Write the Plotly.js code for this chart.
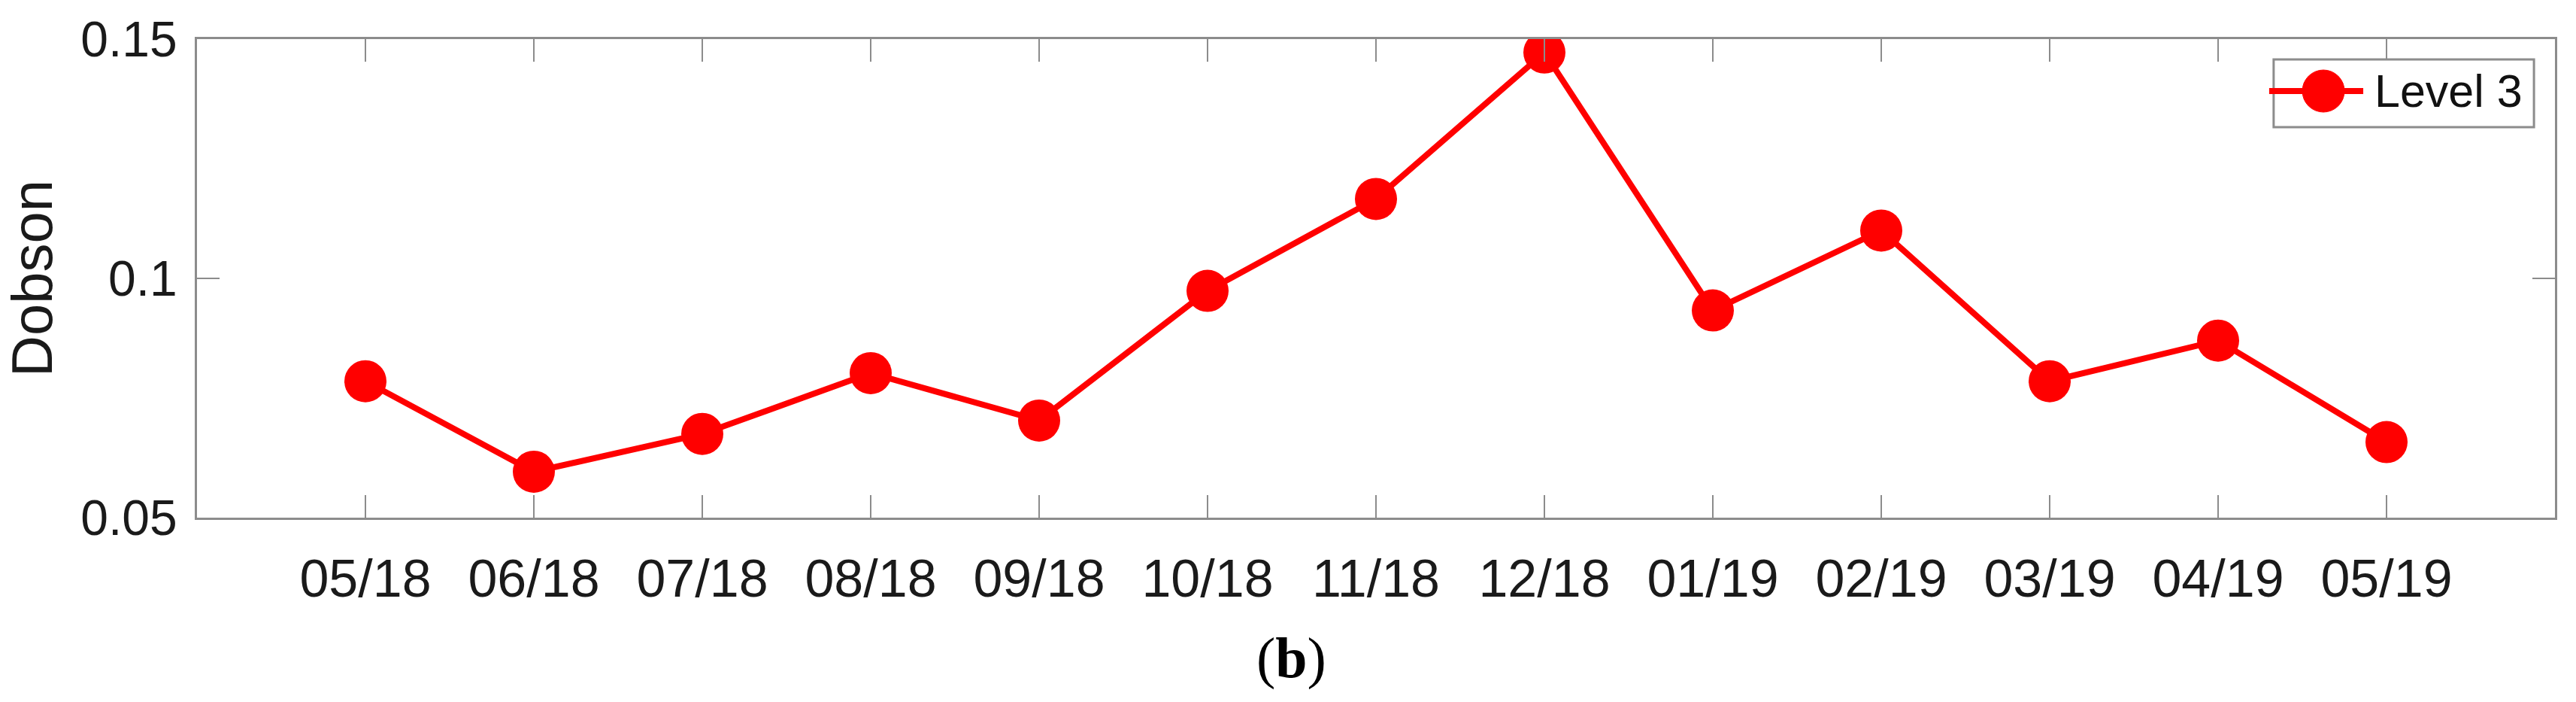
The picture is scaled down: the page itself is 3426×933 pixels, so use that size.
<!DOCTYPE html>
<html>
<head>
<meta charset="utf-8">
<script src="https://cdn.plot.ly/plotly-3.0.1.min.js"></script>
<style>
  html, body { margin: 0; padding: 0; background: #fff; }
  #plotArea { width: 3426px; height: 933px; }
</style>
</head>
<body>
<div id="plotArea"></div>
<script>
// months on the x axis
var months = ["05/18", "06/18", "07/18", "08/18", "09/18", "10/18", "11/18",
              "12/18", "01/19", "02/19", "03/19", "04/19", "05/19"];
// Level 3 values (Dobson)
var level3 = [0.0785, 0.0596, 0.0675, 0.0802, 0.0703, 0.0974, 0.1166,
              0.1472, 0.0933, 0.110, 0.0785, 0.087, 0.0658];
var yTicks = [0.05, 0.1, 0.15];
var yTickText = ["0.05", "0.1", "0.15"];
var seriesName = "Level 3";

var idx = months.map(function (m, i) { return i; });

var red = "#ff0000";
var axisGray = "#8c8c8c";

var trace = {
    x: idx,
    y: level3,
    name: seriesName,
    mode: "lines+markers",
    type: "scatter",
    showlegend: false,
    line: { color: red, width: 8 },
    marker: { color: red, size: 56 }
};

// matlab style legend box, drawn in paper coords (plot area is 3136 x 636 px)
var pw = 3136, ph = 636;
var legX = 0.9018, legY = 0.8915, r = 28;
var legendShapes = [
    { type: "rect", xref: "paper", yref: "paper", x0: 0.8807, x1: 0.9911, y0: 0.816, y1: 0.9575,
      fillcolor: "#ffffff", line: { color: axisGray, width: 3 }, layer: "above" },
    { type: "line", xref: "paper", yref: "paper", x0: 0.8788, x1: 0.9187, y0: legY, y1: legY,
      line: { color: red, width: 8 }, layer: "above" },
    { type: "circle", xref: "paper", yref: "paper",
      x0: legX - r / pw, x1: legX + r / pw, y0: legY - r / ph, y1: legY + r / ph,
      fillcolor: red, line: { color: red, width: 1 }, layer: "above" }
];

var layout = {
    width: 3426,
    height: 933,
    margin: { l: 262, r: 28, t: 52, b: 245 },
    paper_bgcolor: "#ffffff",
    plot_bgcolor: "#ffffff",
    font: { family: "Liberation Sans, Arial, sans-serif", color: "#1a1a1a" },
    xaxis: {
        range: [-1, 13],
        tickvals: idx,
        ticktext: months,
        ticks: "inside",
        ticklen: 30,
        tickwidth: 2,
        tickcolor: axisGray,
        showline: true,
        linecolor: axisGray,
        linewidth: 3,
        mirror: "ticks",
        showgrid: false,
        zeroline: false,
        tickfont: { size: 70 },
        ticklabelstandoff: 18
    },
    yaxis: {
        range: [0.05, 0.15],
        tickvals: yTicks,
        ticktext: yTickText,
        ticks: "inside",
        ticklen: 30,
        tickwidth: 2,
        tickcolor: axisGray,
        showline: true,
        linecolor: axisGray,
        linewidth: 3,
        mirror: "ticks",
        showgrid: false,
        zeroline: false,
        tickfont: { size: 66 },
        ticklabelstandoff: 10,
        title: { text: "Dobson", font: { size: 76 }, standoff: 20 }
    },
    showlegend: false,
    shapes: legendShapes,
    annotations: [{
        text: seriesName,
        xref: "paper",
        yref: "paper",
        x: 0.9228,
        y: legY,
        xanchor: "left",
        yanchor: "middle",
        showarrow: false,
        font: { size: 61, color: "#111" }
    }, {
        text: "(<b>b</b>)",
        xref: "paper",
        yref: "paper",
        x: 0.464,
        y: -0.294,
        xanchor: "center",
        yanchor: "middle",
        showarrow: false,
        font: { family: "Liberation Serif, Times New Roman, serif", size: 76, color: "#000" }
    }]
};

Plotly.newPlot("plotArea", [trace], layout, { displayModeBar: false, staticPlot: true });
</script>
</body>
</html>
